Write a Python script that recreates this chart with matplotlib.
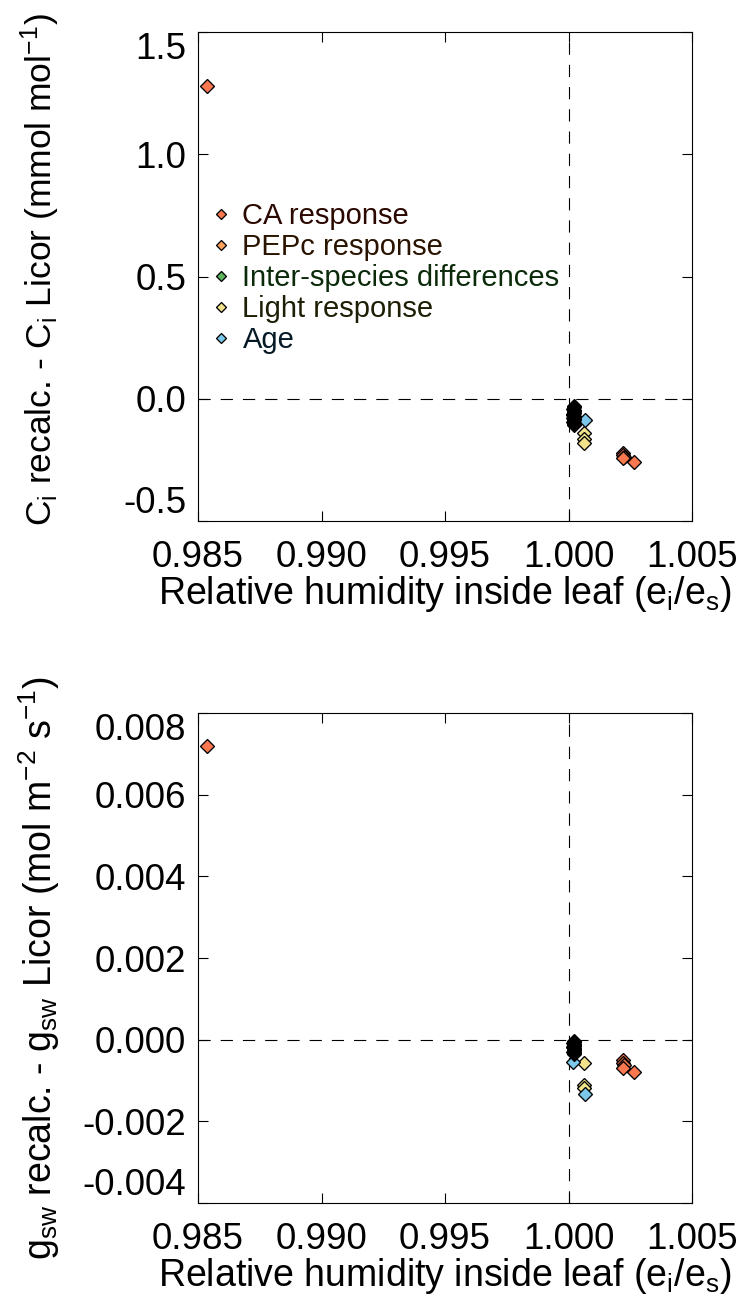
import numpy as np
import matplotlib
matplotlib.use('Agg')
from matplotlib import pyplot as plt

plt.rcParams['font.family'] = ['Liberation Sans', 'DejaVu Sans']
plt.rcParams['mathtext.fontset'] = 'custom'
plt.rcParams['mathtext.rm'] = 'Liberation Sans'
plt.rcParams['mathtext.it'] = 'Liberation Sans:italic'
plt.rcParams['axes.unicode_minus'] = False

# 数据：各组的 ei/es、Ci 差值、gsw 差值
labels = ['CA response', 'PEPc response', 'Inter-species differences', 'Light response', 'Age']
colors = ['#FA7850', '#FFA35C', '#5DB55D', '#F2E38A', '#7CC8EA']
text_colors = ['#2a0800', '#2a1400', '#0a2a0a', '#1e1e05', '#061a26']

rh_ca = [0.98536, 1.00221, 1.00222, 1.00224, 1.00221, 1.00265]
ci_ca = [1.279, -0.222, -0.232, -0.238, -0.242, -0.259]
gsw_ca = [0.0072, -0.00049, -0.00056, -0.00063, -0.00070, -0.00078]

rh_pepc = [1.00021, 1.00022]
ci_pepc = [-0.060, -0.090]
gsw_pepc = [-0.00015, -0.00025]

rh_inter = [1.00021, 1.00022, 1.00020, 1.00023, 1.00021, 1.00022]
ci_inter = [-0.035, -0.050, -0.065, -0.080, -0.095, -0.105]
gsw_inter = [-0.00006, -0.00012, -0.00018, -0.00024, -0.00029, -0.00033]

rh_light = [1.00063, 1.00062, 1.00064]
ci_light = [-0.141, -0.166, -0.182]
gsw_light = [-0.00056, -0.00110, -0.00119]

rh_age = [1.00018, 1.00066]
ci_age = [-0.080, -0.087]
gsw_age = [-0.00054, -0.00132]

# 其余测量点（黑色，重叠成一柱）
rh_other = [1.00021, 1.00022, 1.00020, 1.00023, 1.00021, 1.00022, 1.00020, 1.00022,
            1.00021, 1.00023, 1.00022, 1.00020, 1.00021, 1.00022]
ci_other = [-0.028, -0.034, -0.040, -0.046, -0.052, -0.058, -0.064, -0.070,
            -0.076, -0.082, -0.088, -0.094, -0.100, -0.108]
gsw_other = [-0.00004, -0.00006, -0.00009, -0.00011, -0.00014, -0.00016, -0.00019, -0.00021,
             -0.00024, -0.00026, -0.00029, -0.00031, -0.00033, -0.00034]

rh_all = [rh_ca, rh_pepc, rh_inter, rh_light, rh_age]
ci_all = [ci_ca, ci_pepc, ci_inter, ci_light, ci_age]
gsw_all = [gsw_ca, gsw_pepc, gsw_inter, gsw_light, gsw_age]
zorders = [3, 3, 3, 4, 5]

x_ticks = [0.985, 0.990, 0.995, 1.000, 1.005]
ci_ticks = [-0.5, 0.0, 0.5, 1.0, 1.5]
gsw_ticks = [-0.004, -0.002, 0.000, 0.002, 0.004, 0.006, 0.008]

W, H = 748, 1315
fig = plt.figure(figsize=(W / 100, H / 100), dpi=100)
ax1 = fig.add_axes([198 / W, 1 - 521 / H, 494 / W, 489 / H])
ax2 = fig.add_axes([198 / W, 1 - 1203 / H, 494 / W, 490 / H])


def style_axis(ax, yticks, yfmt, ylabel, ylab_size, ylab_y):
    ax.set_xlim(x_ticks[0], x_ticks[-1])
    ax.set_ylim(yticks[0], yticks[-1])
    ax.set_xticks(x_ticks)
    ax.set_xticklabels([f'{v:.3f}' for v in x_ticks])
    ax.set_yticks(yticks)
    ax.set_yticklabels([yfmt.format(v) for v in yticks])
    ax.tick_params(direction='in', length=7, width=0.8, top=True, right=True,
                   labelsize=26.5)
    ax.tick_params(axis='x', pad=14)
    ax.tick_params(axis='y', pad=8.5)
    labs = ax.get_yticklabels()
    labs[0].set_va('bottom')
    labs[-1].set_va('top')
    for s in ax.spines.values():
        s.set_linewidth(0.8)
    ax.axhline(0, color='black', lw=0.8, ls=(0, (11, 9)), zorder=1)
    ax.axvline(1.0, color='black', lw=0.8, ls=(0, (11, 9)), zorder=1)
    ax.set_xlabel('Relative humidity inside leaf (e$_\\mathregular{i}$/e$_\\mathregular{s}$)',
                  fontsize=27, labelpad=-1)
    ax.set_ylabel(ylabel, fontsize=ylab_size)
    ax.yaxis.set_label_coords(-0.275, ylab_y)


for ax, yvals, yother in [(ax1, ci_all, ci_other), (ax2, gsw_all, gsw_other)]:
    for i in range(len(labels)):
        ax.plot(rh_all[i], yvals[i], ls='none', marker='D', ms=7, mfc=colors[i],
                mec='black', mew=0.95, label=labels[i], zorder=zorders[i])
    ax.plot(rh_other, yother, ls='none', marker='D', ms=7, mfc='black',
            mec='black', mew=0.95, zorder=6)

style_axis(ax1, ci_ticks, '{:.1f}',
           'C$_\\mathregular{i}$ recalc. - C$_\\mathregular{i}$ Licor (mmol mol$^\\mathregular{-1}$)',
           25.5, 0.514)
style_axis(ax2, gsw_ticks, '{:.3f}',
           'g$_\\mathregular{sw}$ recalc. - g$_\\mathregular{sw}$ Licor (mol m$^\\mathregular{-2}$ s$^\\mathregular{-1}$)',
           27, 0.48)

leg = ax1.legend(loc='upper left', bbox_to_anchor=(0.028, 0.652), frameon=False,
                 fontsize=21, markerscale=0.75, handlelength=0.6, handletextpad=0.45,
                 labelspacing=0.1, borderpad=0, borderaxespad=0)
for t, c in zip(leg.get_texts(), text_colors):
    t.set_color(c)

fig.savefig('out.png', dpi=100)
